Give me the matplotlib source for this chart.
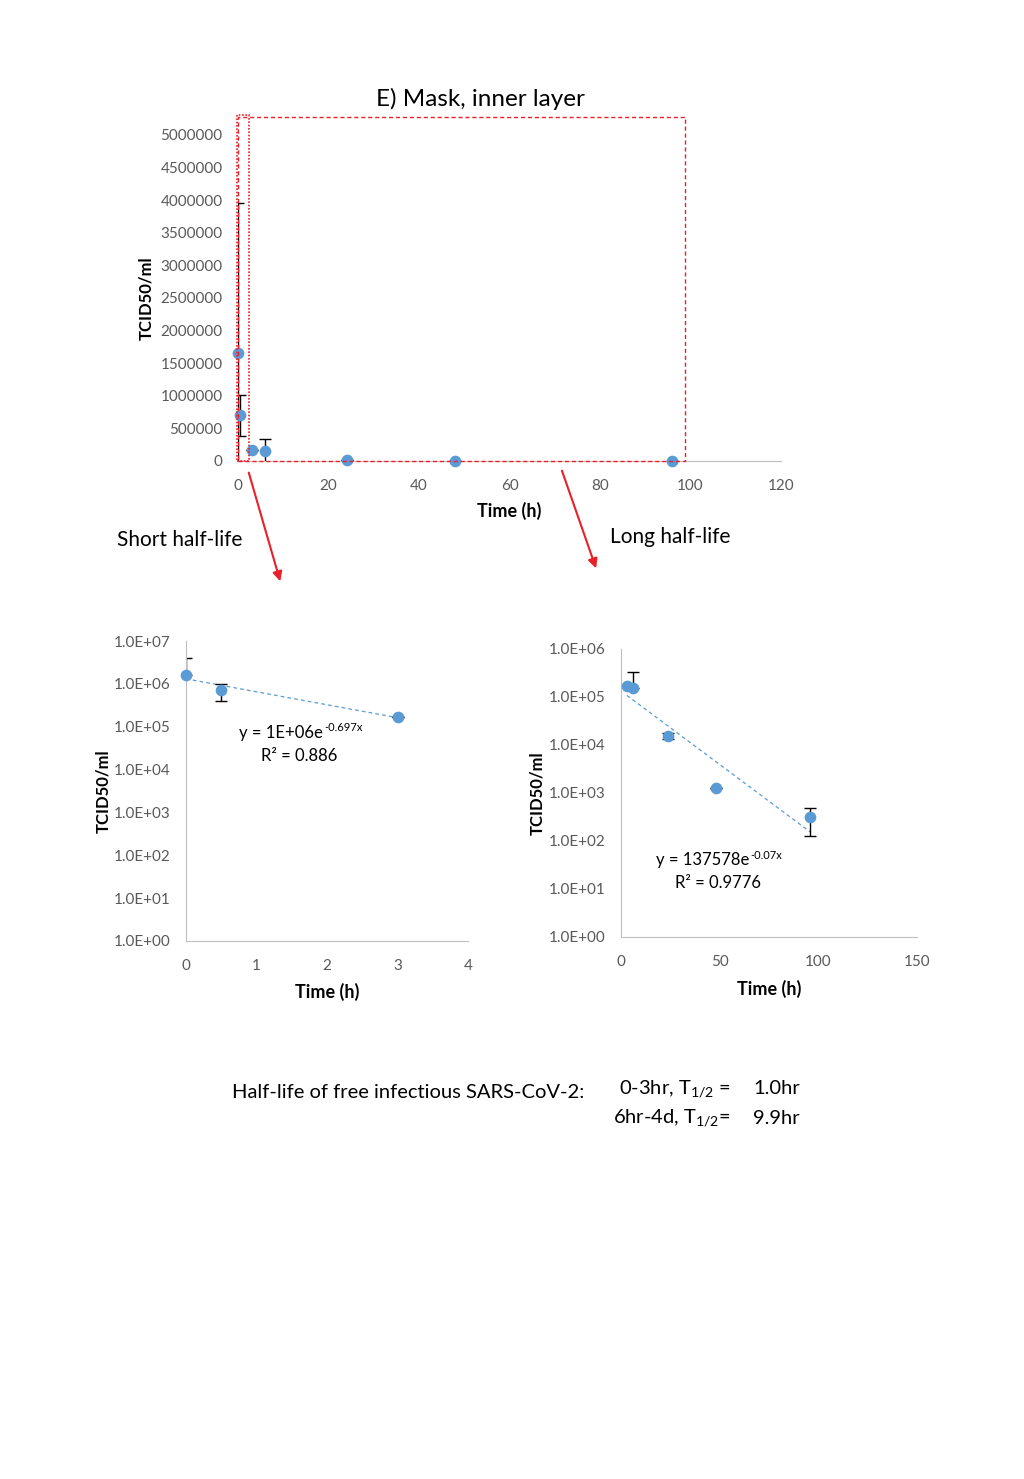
""" =======================  Import dependencies ========================== """

import numpy as np
import matplotlib
matplotlib.use("Agg")
import matplotlib.pyplot as plt
import matplotlib.patches as patches
from matplotlib.ticker import FixedLocator, FuncFormatter, NullLocator

plt.rcParams['font.family'] = ['Lato', 'DejaVu Sans']
plt.rcParams['mathtext.fontset'] = 'custom'
plt.rcParams['mathtext.rm'] = 'Lato'
plt.rcParams['mathtext.it'] = 'Lato:italic'

""" =======================  Data ========================== """

# Time points (h) and virus titer (TCID50/ml) with error (SD)
time_h = [0, 0.5, 3, 6, 24, 48, 96]
titer = [1.65e6, 7.0e5, 1.7e5, 1.56e5, 1.55e4, 1.26e3, 310]
titer_err = [2.3e6, 3.1e5, 0, 1.75e5, 2000, 0, 180]

# indices used for the two half-life fits
short_idx = [0, 1, 2]
long_idx = [2, 3, 4, 5, 6]

top_yticks = list(range(0, 5000001, 500000))
top_xticks = [0, 20, 40, 60, 80, 100, 120]
short_xticks = [0, 1, 2, 3, 4]
short_yticks = [1e0, 1e1, 1e2, 1e3, 1e4, 1e5, 1e6, 1e7]
long_xticks = [0, 50, 100, 150]
long_yticks = [1e0, 1e1, 1e2, 1e3, 1e4, 1e5, 1e6]

short_eq = ('y = 1E+06e', '-0.697x')
short_r2 = 'R² = 0.886'
long_eq = ('y = 137578e', '-0.07x')
long_r2 = 'R² = 0.9776'

BLUE = '#5B9BD5'
GRAY = '#BFBFBF'
TICK = '#595959'
RED = '#E8202A'

W, H = 1024, 1479


def px_axes(fig, left, top, right, bottom):
    # axes from pixel box (top-left origin)
    return fig.add_axes([left / W, 1 - bottom / H, (right - left) / W, (bottom - top) / H])


def style_axes(ax, hide_left=False):
    for s in ['top', 'right']:
        ax.spines[s].set_visible(False)
    ax.spines['bottom'].set_color(GRAY)
    ax.spines['left'].set_color(GRAY)
    if hide_left:
        ax.spines['left'].set_visible(False)
    ax.tick_params(length=0, labelsize=11, colors=TICK)
    ax.tick_params(axis='y', pad=11)
    ax.tick_params(axis='x', pad=13)


def plot_points(ax, idx, log=False):
    t = np.array([time_h[i] for i in idx])
    v = np.array([titer[i] for i in idx])
    e = np.array([titer_err[i] for i in idx])
    lower = e.copy()
    if log:
        # negative lower bounds can't be shown on log axis
        lower = np.where(e >= v, 0, e)
    ax.errorbar(t, v, yerr=[lower, e], fmt='none', ecolor='black', elinewidth=1,
                capsize=4, capthick=1, zorder=2)
    ax.plot(t, v, 'o', color=BLUE, markersize=7.4, zorder=3, clip_on=False)


def trend(ax, idx):
    t = np.array([time_h[i] for i in idx])
    v = np.array([titer[i] for i in idx])
    k, b = np.polyfit(t, np.log(v), 1)
    xs = np.linspace(t.min(), t.max(), 50)
    ax.plot(xs, np.exp(b + k * xs), color=BLUE, lw=0.9, ls=(0, (3, 2.5)), zorder=1)


def equation(fig, x, y, eq):
    # base text, then the exponent placed after it as superscript
    base = fig.text(x / W, 1 - y / H, eq[0], fontsize=12, ha='left', va='center')
    bb = base.get_window_extent(fig.canvas.get_renderer())
    fig.text((bb.x1 + 1) / W, (bb.y1 - 3) / H, eq[1], fontsize=8,
             ha='left', va='center')


def log_fmt(v, pos):
    return '%.1E' % v


def main():
    fig = plt.figure(figsize=(W / 100, H / 100), dpi=100)

    """ ======================================= """
    """              Linear overview            """
    """ ======================================= """
    ax = px_axes(fig, 238, 135, 781, 461)
    style_axes(ax, hide_left=True)
    plot_points(ax, range(len(time_h)))
    ax.set_xlim(0, 120)
    ax.set_ylim(0, 5000000)
    ax.xaxis.set_major_locator(FixedLocator(top_xticks))
    ax.yaxis.set_major_locator(FixedLocator(top_yticks))
    ax.yaxis.set_major_formatter(FuncFormatter(lambda v, p: '%d' % v))
    ax.set_xlabel('Time (h)', fontsize=13, fontweight='bold')
    ax.xaxis.set_label_coords(0.5, -0.125)
    ax.set_ylabel('TCID50/ml', fontsize=12, fontweight='bold')
    ax.yaxis.set_label_coords(-0.155, 0.5)
    fig.text(480 / W, 1 - 99 / H, 'E) Mask, inner layer', fontsize=17.5,
             ha='center', va='center')

    # zoom boxes
    fig.add_artist(patches.Rectangle((238 / W, 1 - 461 / H), 447 / W, 344 / H,
                                     transform=fig.transFigure, fill=False,
                                     ec=RED, lw=1, ls=(0, (3, 2))))
    fig.add_artist(patches.Rectangle((237 / W, 1 - 461 / H), 12 / W, 346 / H,
                                     transform=fig.transFigure, fill=False,
                                     ec=RED, lw=1.2, ls=(0, (1, 1))))

    # arrows
    ax.annotate('', xy=(281, H - 584), xytext=(248, H - 470), xycoords='figure pixels',
                textcoords='figure pixels',
                arrowprops=dict(arrowstyle='-|>', color=RED, lw=1.5, mutation_scale=14))
    ax.annotate('', xy=(597, H - 571), xytext=(561, H - 468), xycoords='figure pixels',
                textcoords='figure pixels',
                arrowprops=dict(arrowstyle='-|>', color=RED, lw=1.5, mutation_scale=14))
    fig.text(117 / W, 1 - 540 / H, 'Short half-life', fontsize=15, ha='left', va='center')
    fig.text(610 / W, 1 - 537 / H, 'Long half-life', fontsize=15, ha='left', va='center')

    """ ======================================= """
    """             Short half-life             """
    """ ======================================= """
    ax1 = px_axes(fig, 186, 641, 468, 941)
    style_axes(ax1)
    ax1.set_yscale('log')
    trend(ax1, short_idx)
    plot_points(ax1, short_idx, log=True)
    ax1.set_xlim(0, 4)
    ax1.set_ylim(1, 1e7)
    ax1.xaxis.set_major_locator(FixedLocator(short_xticks))
    ax1.yaxis.set_major_locator(FixedLocator(short_yticks))
    ax1.yaxis.set_minor_locator(NullLocator())
    ax1.yaxis.set_major_formatter(FuncFormatter(log_fmt))
    ax1.set_xlabel('Time (h)', fontsize=13, fontweight='bold')
    ax1.xaxis.set_label_coords(0.5, -0.14)
    ax1.set_ylabel('TCID50/ml', fontsize=12, fontweight='bold')
    ax1.yaxis.set_label_coords(-0.265, 0.5)
    equation(fig, 239, 733, short_eq)
    fig.text(261 / W, 1 - 756 / H, short_r2, fontsize=12, ha='left', va='center')

    """ ======================================= """
    """              Long half-life             """
    """ ======================================= """
    ax2 = px_axes(fig, 621, 649, 917, 937)
    style_axes(ax2)
    ax2.set_yscale('log')
    trend(ax2, long_idx)
    plot_points(ax2, long_idx, log=True)
    ax2.set_xlim(0, 150)
    ax2.set_ylim(1, 1e6)
    ax2.xaxis.set_major_locator(FixedLocator(long_xticks))
    ax2.yaxis.set_major_locator(FixedLocator(long_yticks))
    ax2.yaxis.set_minor_locator(NullLocator())
    ax2.yaxis.set_major_formatter(FuncFormatter(log_fmt))
    ax2.set_xlabel('Time (h)', fontsize=13, fontweight='bold')
    ax2.xaxis.set_label_coords(0.5, -0.15)
    ax2.set_ylabel('TCID50/ml', fontsize=12, fontweight='bold')
    ax2.yaxis.set_label_coords(-0.255, 0.5)
    equation(fig, 656, 860, long_eq)
    fig.text(675 / W, 1 - 883 / H, long_r2, fontsize=12, ha='left', va='center')

    """ ======================================= """
    """               Summary text              """
    """ ======================================= """
    fig.text(232 / W, 1 - 1092 / H, 'Half-life of free infectious SARS-CoV-2:',
             fontsize=14.5, ha='left', va='center')
    fig.text(731 / W, 1 - 1089 / H, r'0-3hr, T$_{1/2}$ =', fontsize=14.5, ha='right', va='center')
    fig.text(753 / W, 1 - 1089 / H, '1.0hr', fontsize=14.5, ha='left', va='center')
    fig.text(731 / W, 1 - 1118 / H, r'6hr-4d, T$_{1/2}$=', fontsize=14.5, ha='right', va='center')
    fig.text(753 / W, 1 - 1118 / H, '9.9hr', fontsize=14.5, ha='left', va='center')

    fig.savefig('out.png', dpi=100, facecolor='white')


if __name__ == "__main__":
    main()
